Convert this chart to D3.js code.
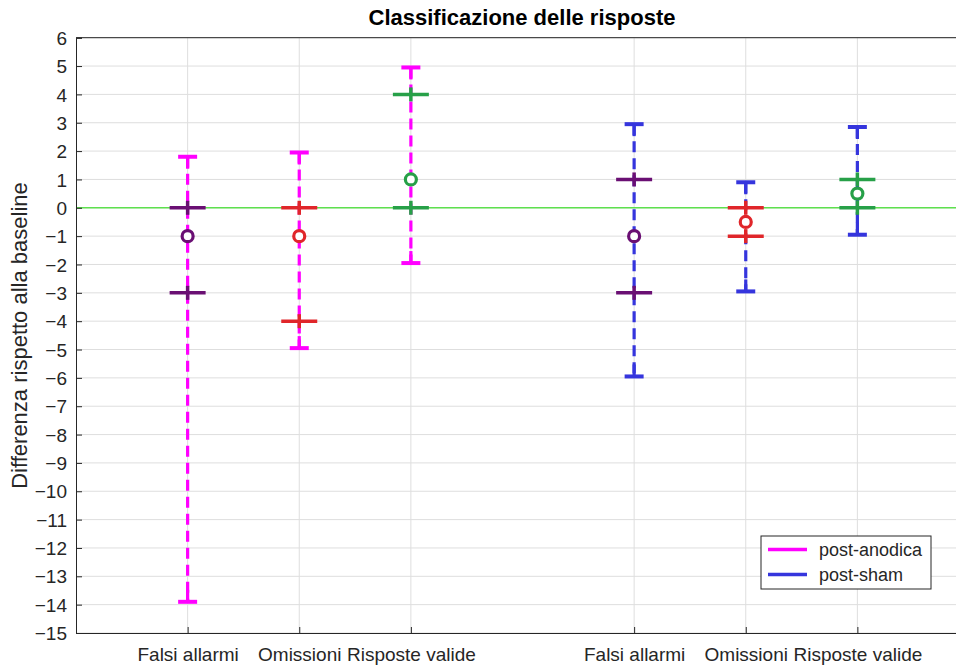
<!DOCTYPE html>
<html>
<head>
<meta charset="utf-8">
<script src="https://cdn.jsdelivr.net/npm/d3@7/dist/d3.min.js"></script>
<style>
  html, body { margin: 0; padding: 0; background: #fff; }
  svg { display: block; font-family: "Liberation Sans", Arial, sans-serif; }
</style>
</head>
<body>
<svg id="chart" width="956" height="666"></svg>
<script>
// Categories and x positions (two groups separated by an empty slot)
const categories = ["Falsi allarmi", "Omissioni", "Risposte valide", "Falsi allarmi", "Omissioni", "Risposte valide"];
const positions = [1, 2, 3, 5, 6, 7];
const groups = ["post-anodica", "post-anodica", "post-anodica", "post-sham", "post-sham", "post-sham"];

// Whisker ends (dashed error bars)
const whiskerHigh = [1.8, 1.95, 4.95, 2.95, 0.9, 2.85];
const whiskerLow = [-13.9, -4.95, -1.95, -5.95, -2.95, -0.95];
// Central value (circle)
const centers = [-1, -1, 1, -1, -0.5, 0.5];
// Upper and lower marks (crosses)
const upperMarks = [0, 0, 4, 1, 0, 1];
const lowerMarks = [-3, -4, 0, -3, -1, 0];

const yTicks = d3.range(-15, 7, 1);
const legendLabels = ["post-anodica", "post-sham"];

const groupColor = { "post-anodica": "#ff00ff", "post-sham": "#3535dd" };
const categoryColor = { "Falsi allarmi": "#6a0f73", "Omissioni": "#e0262a", "Risposte valide": "#27a048" };

const svg = d3.select("#chart");
const L = 76, R = 969, T = 37.7, B = 633;

const x = d3.scaleLinear().domain([0, 8]).range([L, R]);
const y = d3.scaleLinear().domain([-15, 6]).range([B, T]);

svg.append("defs").append("clipPath").attr("id", "plotclip")
  .append("rect").attr("x", L).attr("y", T - 10).attr("width", R - L).attr("height", B - T + 20);

// Grid
const grid = svg.append("g").attr("clip-path", "url(#plotclip)");
grid.selectAll("line.hg").data(yTicks).join("line")
  .attr("x1", L).attr("x2", R)
  .attr("y1", d => y(d)).attr("y2", d => y(d))
  .attr("stroke", "#dedede").attr("stroke-width", 1);
grid.selectAll("line.vg").data(positions).join("line")
  .attr("x1", d => x(d)).attr("x2", d => x(d))
  .attr("y1", T).attr("y2", B)
  .attr("stroke", "#dedede").attr("stroke-width", 1);

// Zero reference line
svg.append("line")
  .attr("x1", L).attr("x2", R).attr("y1", y(0)).attr("y2", y(0))
  .attr("stroke", "#5ee04e").attr("stroke-width", 1.5);

// Axes
const yAxis = svg.append("g").attr("transform", `translate(${L},0)`)
  .call(d3.axisLeft(y).tickValues(yTicks).tickSize(-6).tickPadding(9).tickFormat(d3.format("d")));
const xAxis = svg.append("g").attr("transform", `translate(0,${B})`)
  .call(d3.axisBottom(x).tickValues(positions).tickSize(-6).tickPadding(15)
    .tickFormat((d, i) => categories[i]));
[yAxis, xAxis].forEach(a => {
  a.select(".domain").attr("stroke", "#262626").attr("stroke-width", 1);
  a.selectAll(".tick line").attr("stroke", "#262626");
  a.selectAll(".tick text").attr("fill", "#262626").style("font-size", "19px")
    .style("font-family", "'Liberation Sans', Arial, sans-serif");
});
yAxis.selectAll(".tick text").attr("dy", "0.35em");
// top border of the axes box
svg.append("line").attr("x1", L).attr("x2", R).attr("y1", T).attr("y2", T)
  .attr("stroke", "#262626").attr("stroke-width", 1);

const data = positions.map((p, i) => ({
  pos: p, cat: categories[i], group: groups[i],
  hi: whiskerHigh[i], lo: whiskerLow[i], c: centers[i],
  up: upperMarks[i], dn: lowerMarks[i]
}));

const marks = svg.append("g");
// Dashed error bars
marks.selectAll("line.eb").data(data).join("line")
  .attr("x1", d => x(d.pos)).attr("x2", d => x(d.pos))
  .attr("y1", d => y(d.hi)).attr("y2", d => y(d.lo))
  .attr("stroke", d => groupColor[d.group]).attr("stroke-width", 3.2)
  .attr("stroke-dasharray", "11,6");
// Caps
["hi", "lo"].forEach(k => {
  marks.selectAll("line.cap" + k).data(data).join("line")
    .attr("x1", d => x(d.pos) - 9.5).attr("x2", d => x(d.pos) + 9.5)
    .attr("y1", d => y(d[k])).attr("y2", d => y(d[k]))
    .attr("stroke", d => groupColor[d.group]).attr("stroke-width", 4);
  marks.selectAll("line.capstem" + k).data(data).join("line")
    .attr("x1", d => x(d.pos)).attr("x2", d => x(d.pos))
    .attr("y1", d => y(d[k])).attr("y2", d => y(d[k]) + (k === "hi" ? 12 : -12))
    .attr("stroke", d => groupColor[d.group]).attr("stroke-width", 3.2);
});

// Crosses at the upper and lower marks
["up", "dn"].forEach(k => {
  const g = marks.selectAll("g.cross" + k).data(data).join("g")
    .attr("transform", d => `translate(${x(d.pos)},${y(d[k])})`);
  g.append("line").attr("x1", -18).attr("x2", 18).attr("y1", 0).attr("y2", 0)
    .attr("stroke", d => categoryColor[d.cat]).attr("stroke-width", 3.5);
  g.append("line").attr("x1", 0).attr("x2", 0).attr("y1", -7).attr("y2", 7)
    .attr("stroke", d => categoryColor[d.cat]).attr("stroke-width", 3.5);
});

// Circles at the central value
marks.selectAll("circle.c").data(data).join("circle")
  .attr("cx", d => x(d.pos)).attr("cy", d => y(d.c)).attr("r", 5.5)
  .attr("fill", "#fff").attr("stroke", d => categoryColor[d.cat]).attr("stroke-width", 3.2);

// Title
svg.append("text").attr("x", 522).attr("y", 25).attr("text-anchor", "middle")
  .style("font-size", "22px").style("font-weight", "bold").attr("fill", "#000")
  .text("Classificazione delle risposte");

// Y label
svg.append("text")
  .attr("transform", `translate(27,335.5) rotate(-90)`)
  .attr("text-anchor", "middle").style("font-size", "22px").attr("fill", "#262626")
  .text("Differenza rispetto alla baseline");

// Legend
const lg = svg.append("g").attr("transform", "translate(761,536)");
lg.append("rect").attr("width", 170).attr("height", 53)
  .attr("fill", "#fff").attr("stroke", "#262626").attr("stroke-width", 1);
legendLabels.forEach((lab, i) => {
  const yy = 13.5 + i * 25;
  lg.append("line").attr("x1", 7).attr("x2", 46).attr("y1", yy).attr("y2", yy)
    .attr("stroke", groupColor[lab]).attr("stroke-width", 3.5);
  lg.append("text").attr("x", 58).attr("y", yy).attr("dy", "0.35em")
    .style("font-size", "18px").attr("fill", "#262626").text(lab);
});
</script>
</body>
</html>
